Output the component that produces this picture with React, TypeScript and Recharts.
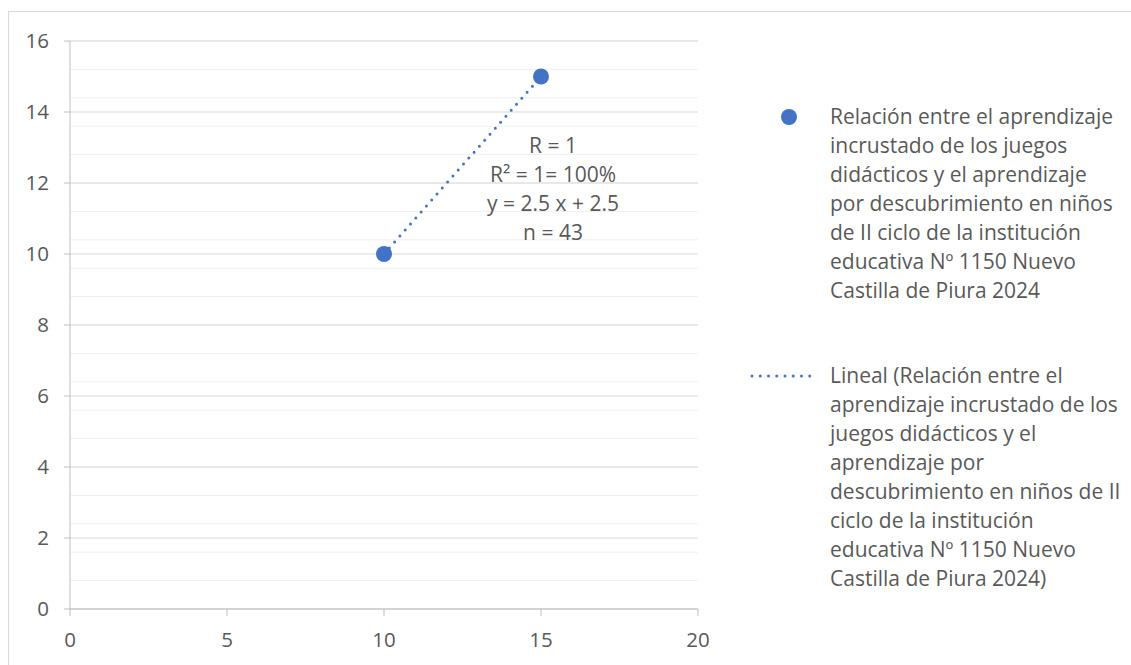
import React from "react";
import {
  ScatterChart,
  Scatter,
  XAxis,
  YAxis,
  CartesianGrid,
} from "recharts";

// puntos observados
const xValues = [10, 15];
const yValues = [10, 15];

// recta de tendencia (lineal)
const trendX = [10, 15];
const trendY = [10, 15];

const xTicks = [0, 5, 10, 15, 20];
const yTicks = [0, 2, 4, 6, 8, 10, 12, 14, 16];

const statsLines = ["R = 1", "R² = 1= 100%", "y = 2.5 x + 2.5", "n = 43"];

const legendPoints = [
  "Relación entre el aprendizaje",
  "incrustado de los juegos",
  "didácticos y el aprendizaje",
  "por descubrimiento en niños",
  "de II ciclo de la institución",
  "educativa Nº 1150 Nuevo",
  "Castilla de Piura 2024",
];

const legendTrend = [
  "Lineal (Relación entre el",
  "aprendizaje incrustado de los",
  "juegos didácticos y el",
  "aprendizaje por",
  "descubrimiento en niños de II",
  "ciclo de la institución",
  "educativa Nº 1150 Nuevo",
  "Castilla de Piura 2024)",
];

const BLUE = "#4472c4";
const TEXT = "#595959";
const FONT = "'Open Sans', 'Noto Sans', sans-serif";

const points = xValues.map((x, i) => ({ x, y: yValues[i] }));
const trend = trendX.map((x, i) => ({ x, y: trendY[i] }));

// lineas menores cada 0.4
const minorGrid: number[] = [];
for (let i = 0; i <= 40; i++) minorGrid.push(Math.round(i * 4) / 10);

const Dot = (props: any) => (
  <circle cx={props.cx} cy={props.cy} r={8} fill={BLUE} />
);

export default function App() {
  const tick = { fill: TEXT, fontSize: 20.5, fontFamily: FONT };

  return (
    <div
      style={{
        position: "absolute",
        left: 0,
        top: 0,
        width: 1131,
        height: 665,
        overflow: "hidden",
        background: "#fff",
        fontFamily: FONT,
      }}
    >
      {/* marco */}
      <div
        style={{
          position: "absolute",
          left: 8,
          top: 11,
          width: 1200,
          height: 700,
          border: "1px solid #d9d9d9",
        }}
      />

      <div style={{ position: "absolute", left: 0, top: 0 }}>
        <ScatterChart
          width={760}
          height={665}
          margin={{ top: 41, right: 62, bottom: 0, left: 0 }}
        >
          <CartesianGrid
            vertical={false}
            horizontalValues={minorGrid}
            stroke="#efefef"
            strokeWidth={1}
          />
          <CartesianGrid
            vertical={false}
            horizontalValues={yTicks}
            stroke="#d9d9d9"
            strokeWidth={1}
          />
          <XAxis
            type="number"
            dataKey="x"
            domain={[0, 20]}
            ticks={xTicks}
            height={56}
            tickSize={7}
            tickMargin={16}
            tick={tick}
            axisLine={{ stroke: "#bfbfbf" }}
            tickLine={{ stroke: "#bfbfbf" }}
          />
          <YAxis
            type="number"
            dataKey="y"
            domain={[0, 16]}
            ticks={yTicks}
            width={70}
            tickSize={6}
            tickMargin={15}
            tick={tick}
            axisLine={{ stroke: "#bfbfbf" }}
            tickLine={{ stroke: "#bfbfbf" }}
          />
          <Scatter
            data={trend}
            line={{
              stroke: BLUE,
              strokeWidth: 3,
              strokeDasharray: "0 8",
              strokeLinecap: "round",
            }}
            shape={() => null}
            isAnimationActive={false}
          />
          <Scatter data={points} shape={Dot} isAnimationActive={false} />
        </ScatterChart>
      </div>

      {/* estadisticos */}
      <div
        style={{
          position: "absolute",
          left: 453,
          top: 131,
          width: 200,
          textAlign: "center",
          color: TEXT,
          fontSize: 21,
          lineHeight: "29px",
        }}
      >
        {statsLines.map((l) => (
          <div key={l} style={{ whiteSpace: "nowrap" }}>
            {l}
          </div>
        ))}
      </div>

      {/* leyenda */}
      <div
        style={{
          position: "absolute",
          left: 781,
          top: 109,
          width: 16,
          height: 16,
          borderRadius: 8,
          background: BLUE,
        }}
      />
      <div
        style={{
          position: "absolute",
          left: 830,
          top: 102,
          color: TEXT,
          fontSize: 21,
          lineHeight: "29px",
        }}
      >
        {legendPoints.map((l) => (
          <div key={l} style={{ whiteSpace: "nowrap" }}>
            {l}
          </div>
        ))}
      </div>

      <svg
        style={{ position: "absolute", left: 748, top: 370 }}
        width={76}
        height={12}
      >
        <line
          x1={4}
          y1={6}
          x2={70}
          y2={6}
          stroke={BLUE}
          strokeWidth={3}
          strokeDasharray="0 8.25"
          strokeLinecap="round"
        />
      </svg>
      <div
        style={{
          position: "absolute",
          left: 830,
          top: 361,
          color: TEXT,
          fontSize: 21,
          lineHeight: "29px",
        }}
      >
        {legendTrend.map((l) => (
          <div key={l} style={{ whiteSpace: "nowrap" }}>
            {l}
          </div>
        ))}
      </div>
    </div>
  );
}
